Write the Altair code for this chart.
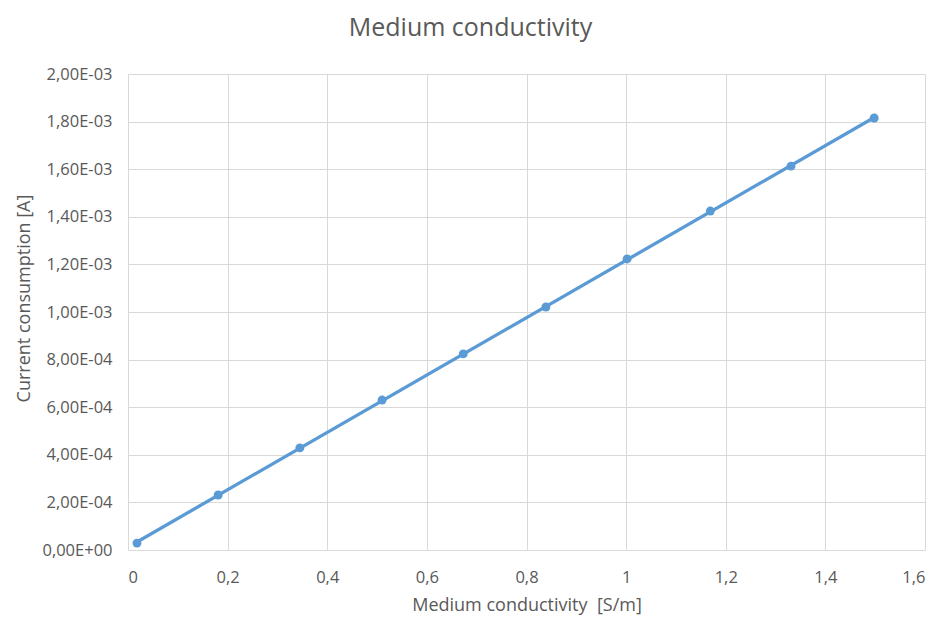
import altair as alt
import pandas as pd

conductivity = [0.018, 0.181, 0.345, 0.510, 0.673, 0.839, 1.002, 1.169, 1.331, 1.498]
current = [2.9e-5, 2.31e-4, 4.29e-4, 6.30e-4, 8.24e-4, 1.021e-3, 1.223e-3, 1.424e-3, 1.613e-3, 1.815e-3]

x_ticks = [0, 0.2, 0.4, 0.6, 0.8, 1.0, 1.2, 1.4, 1.6]
y_ticks = [0, 2e-4, 4e-4, 6e-4, 8e-4, 1e-3, 1.2e-3, 1.4e-3, 1.6e-3, 1.8e-3, 2e-3]
y_labels = ["0,00E+00", "2,00E-04", "4,00E-04", "6,00E-04", "8,00E-04", "1,00E-03",
            "1,20E-03", "1,40E-03", "1,60E-03", "1,80E-03", "2,00E-03"]

df = pd.DataFrame({"x": conductivity, "y": current})

FONT = "Open Sans"
GRAY = "#595959"
BLUE = "#5B9BD5"

y_label_expr = "[" + ",".join("'%s'" % s for s in y_labels) + "][round(datum.value / 0.0002)]"

x_enc = alt.X("x:Q", title="Medium conductivity\u00a0\u00a0[S/m]",
              scale=alt.Scale(domain=[0, 1.6], nice=False, zero=False),
              axis=alt.Axis(values=x_ticks, format="~g",
                            labelExpr="replace(datum.label, '.', ',')",
                            labelPadding=19, titlePadding=11))
y_enc = alt.Y("y:Q", title="Current consumption [A]",
              scale=alt.Scale(domain=[0, 2e-3], nice=False),
              axis=alt.Axis(values=y_ticks, labelExpr=y_label_expr,
                            labelPadding=16, titlePadding=8, titleY=224))

base = alt.Chart(df)
points = base.mark_circle(size=80, color=BLUE, opacity=1).encode(x=x_enc, y=y_enc)
trend = base.transform_regression("x", "y").mark_line(color=BLUE, strokeWidth=3.3).encode(
    x=x_enc, y=y_enc)

chart = (trend + points).properties(
    width=797, height=476,
    autosize=alt.AutoSizeParams(type="none"),
    padding={"left": 128, "top": 74, "right": 16, "bottom": 69},
    background="white",
    title=alt.TitleParams("Medium conductivity", font=FONT, fontSize=25, fontWeight="normal",
                          color=GRAY, anchor="middle", dx=-56, offset=25),
).configure_view(stroke=None).configure_axis(
    grid=True, gridColor="#d9d9d9", gridWidth=1, domain=False, ticks=False,
    labelFont=FONT, labelFontSize=16.5, labelColor=GRAY,
    titleFont=FONT, titleFontSize=18, titleColor=GRAY, titleFontWeight="normal",
)

chart.save("out.html", embed_options={"renderer": "svg", "actions": False})
